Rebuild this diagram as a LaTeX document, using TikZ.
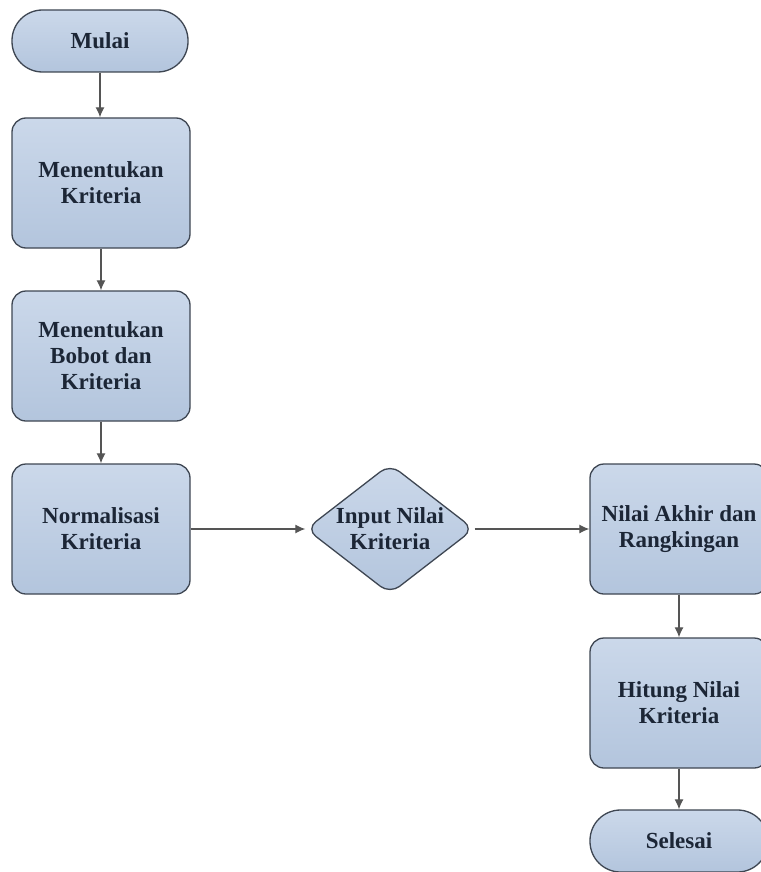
\documentclass[tikz,border=0pt]{standalone}
\usepackage{fontspec}
\setmainfont{Liberation Serif}
\usepackage{tikz}
\usetikzlibrary{shapes.geometric,arrows.meta}
\definecolor{atas}{HTML}{CBD8EA}
\definecolor{bawah}{HTML}{B3C5DD}
\definecolor{garis}{HTML}{3E4652}
\definecolor{panahabu}{HTML}{555555}
\definecolor{teks}{HTML}{1C2636}
\tikzset{
    tulisan/.style={align=center, text=teks, font=\bfseries\fontsize{23}{26}\selectfont},
    kotak/.style={tulisan, draw=garis, line width=1.3pt, rounded corners=14pt,
        top color=atas, bottom color=bawah,
        minimum width=178pt, minimum height=130pt, inner sep=0pt},
    ujung/.style={kotak, rounded corners=30.5pt, minimum width=176pt, minimum height=62pt},
    belah/.style={kotak, diamond, rounded corners=12pt, aspect=1.3,
        minimum width=168pt, minimum height=130pt},
    panah/.style={-{Latex[length=10pt,width=9pt]}, draw=panahabu, line width=1.2pt}
}

\begin{document}
\begin{tikzpicture}[x=1pt,y=-1pt]
        \useasboundingbox (0,0) rectangle (760,872);

        % kolom kiri
        \node[ujung] (mulai) at (100,41) {Mulai};
        \node[kotak] (tentukan) at (101,183) {Menentukan\\Kriteria};
        \node[kotak] (bobot) at (101,356) {Menentukan\\Bobot dan\\Kriteria};
        \node[kotak] (normal) at (101,529) {Normalisasi\\Kriteria};

        % tengah
        \node[belah, label={[tulisan]center:{Input Nilai\\Kriteria}}] (input) at (390,529) {};

        % kolom kanan
        \node[kotak] (akhir) at (679,529) {Nilai Akhir dan\\Rangkingan};
        \node[kotak] (hitung) at (679,703) {Hitung Nilai\\Kriteria};
        \node[ujung, minimum width=178pt] (selesai) at (679,841) {Selesai};

        \draw[panah] (mulai.south) -- (mulai.south |- tentukan.north);
        \draw[panah] (tentukan) -- (bobot);
        \draw[panah] (bobot) -- (normal);
        \draw[panah] (normal) -- (input);
        \draw[panah] (input) -- (akhir);
        \draw[panah] (akhir) -- (hitung);
        \draw[panah] (hitung) -- (selesai);
    \end{tikzpicture}
\end{document}
